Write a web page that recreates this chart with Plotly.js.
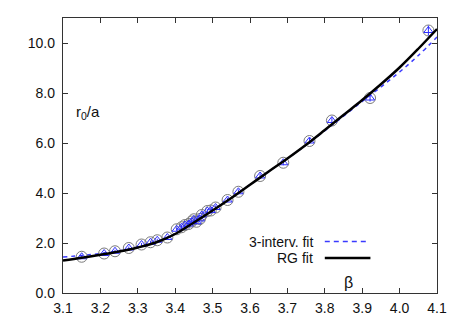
<!DOCTYPE html>
<html>
<head>
<meta charset="utf-8">
<script src="https://cdn.plot.ly/plotly-3.0.1.min.js"></script>
<style>
  html, body { margin: 0; padding: 0; background: #fff; }
  #chart { width: 463px; height: 324px; }
</style>
</head>
<body>
<div id="chart"></div>
<script>
// === datos ===
const beta = [3.150, 3.210, 3.239, 3.276, 3.310, 3.334, 3.352, 3.379, 3.404, 3.417,
              3.426, 3.436, 3.444, 3.450, 3.457, 3.466, 3.471, 3.486, 3.495, 3.508,
              3.540, 3.569, 3.627, 3.689, 3.759, 3.819, 3.921, 4.077];
const r0a = [1.45, 1.58, 1.67, 1.80, 1.94, 2.03, 2.11, 2.22, 2.55, 2.63,
             2.72, 2.76, 2.86, 2.95, 2.85, 2.96, 3.12, 3.28, 3.30, 3.42,
             3.72, 4.05, 4.68, 5.21, 6.08, 6.90, 7.80, 10.50];
const r0aErr = [0.06, 0.06, 0.06, 0.06, 0.06, 0.06, 0.06, 0.06, 0.07, 0.07,
                0.07, 0.07, 0.07, 0.07, 0.07, 0.07, 0.08, 0.08, 0.08, 0.08,
                0.09, 0.09, 0.10, 0.10, 0.12, 0.13, 0.14, 0.20];

// curva "RG fit"
const rgBeta = [3.10, 3.15, 3.20, 3.25, 3.30, 3.35, 3.40, 3.45, 3.50, 3.55, 3.60,
                3.65, 3.70, 3.75, 3.80, 3.85, 3.90, 3.95, 4.00, 4.05, 4.10];
const rgR0a = [1.30, 1.41, 1.53, 1.66, 1.82, 2.03, 2.36, 2.82, 3.30, 3.80, 4.33,
               4.86, 5.38, 5.93, 6.52, 7.12, 7.72, 8.35, 9.02, 9.77, 10.56];

// curva "3-interv. fit"
const ivBeta = [3.10, 3.15, 3.20, 3.25, 3.30, 3.35, 3.40, 3.45, 3.50, 3.55, 3.60,
                3.65, 3.70, 3.75, 3.80, 3.85, 3.90, 3.95, 4.00, 4.05, 4.10];
const ivR0a = [1.44, 1.50, 1.58, 1.69, 1.84, 2.05, 2.37, 2.83, 3.31, 3.81, 4.33,
               4.86, 5.38, 5.92, 6.49, 7.07, 7.66, 8.24, 8.84, 9.50, 10.24];

const xTicks = [3.1, 3.2, 3.3, 3.4, 3.5, 3.6, 3.7, 3.8, 3.9, 4.0, 4.1];
const yTicks = [0, 2, 4, 6, 8, 10];

const FONT = 'Liberation Sans, Arial, Helvetica, sans-serif';

const traces = [
  {
    x: ivBeta, y: ivR0a, mode: 'lines', name: '3-interv. fit',
    line: { color: '#3a3aff', width: 1.5, dash: '4px,4px', shape: 'spline' },
    showlegend: false
  },
  {
    x: beta, y: r0a, mode: 'markers', name: 'circ',
    marker: { symbol: 'circle-open', size: 11, color: '#7a7a7a', line: { width: 1 } },
    showlegend: false
  },
  {
    x: beta, y: r0a, mode: 'markers', name: 'tri',
    marker: { symbol: 'triangle-up-open', size: 8, color: '#2f2fff', line: { width: 1 } },
    error_y: { type: 'data', array: r0aErr, color: '#2f2fff', thickness: 1, width: 0 },
    showlegend: false
  },
  {
    x: rgBeta, y: rgR0a, mode: 'lines', name: 'RG fit',
    line: { color: '#000000', width: 2.5, shape: 'spline' },
    showlegend: false
  }
];

const axisBase = {
  showgrid: false, zeroline: false,
  showline: true, linecolor: '#333', linewidth: 1.2, mirror: 'ticks',
  ticks: 'inside', ticklen: 5, tickwidth: 1, tickcolor: '#333',
  tickfont: { family: FONT, size: 14, color: '#111' }
};

const layout = {
  width: 463, height: 324,
  margin: { l: 63, r: 26, t: 18, b: 31 },
  paper_bgcolor: '#fff', plot_bgcolor: '#fff',
  showlegend: false,
  xaxis: Object.assign({}, axisBase, {
    range: [3.1, 4.1], tickvals: xTicks,
    ticktext: xTicks.map(v => v.toFixed(1)), ticklabelstandoff: 2
  }),
  yaxis: Object.assign({}, axisBase, {
    range: [0, 11], tickvals: yTicks,
    ticktext: yTicks.map(v => v.toFixed(1)), ticklabelstandoff: 4
  }),
  annotations: [
    { xref: 'paper', yref: 'paper', x: 0.03, y: 0.655, xanchor: 'left', yanchor: 'middle',
      text: 'r<sub>0</sub>/a', showarrow: false, font: { family: FONT, size: 15, color: '#111' } },
    { xref: 'paper', yref: 'paper', x: 0.763, y: 0.04, xanchor: 'center', yanchor: 'middle',
      text: 'β', showarrow: false, font: { family: FONT, size: 16, color: '#111' } },
    { xref: 'paper', yref: 'paper', x: 0.674, y: 0.187, xanchor: 'right', yanchor: 'middle',
      text: '3-interv. fit', showarrow: false, font: { family: FONT, size: 14, color: '#111' } },
    { xref: 'paper', yref: 'paper', x: 0.674, y: 0.127, xanchor: 'right', yanchor: 'middle',
      text: 'RG fit', showarrow: false, font: { family: FONT, size: 14, color: '#111' } }
  ],
  // muestras de la leyenda
  shapes: [
    { type: 'line', xref: 'paper', yref: 'paper', x0: 0.70, x1: 0.82, y0: 0.187, y1: 0.187,
      line: { color: '#3a3aff', width: 1.5, dash: '5px,4px' } },
    { type: 'line', xref: 'paper', yref: 'paper', x0: 0.70, x1: 0.822, y0: 0.127, y1: 0.127,
      line: { color: '#000', width: 2.5 } }
  ]
};

Plotly.newPlot('chart', traces, layout, { staticPlot: true, displayModeBar: false });
</script>
</body>
</html>
